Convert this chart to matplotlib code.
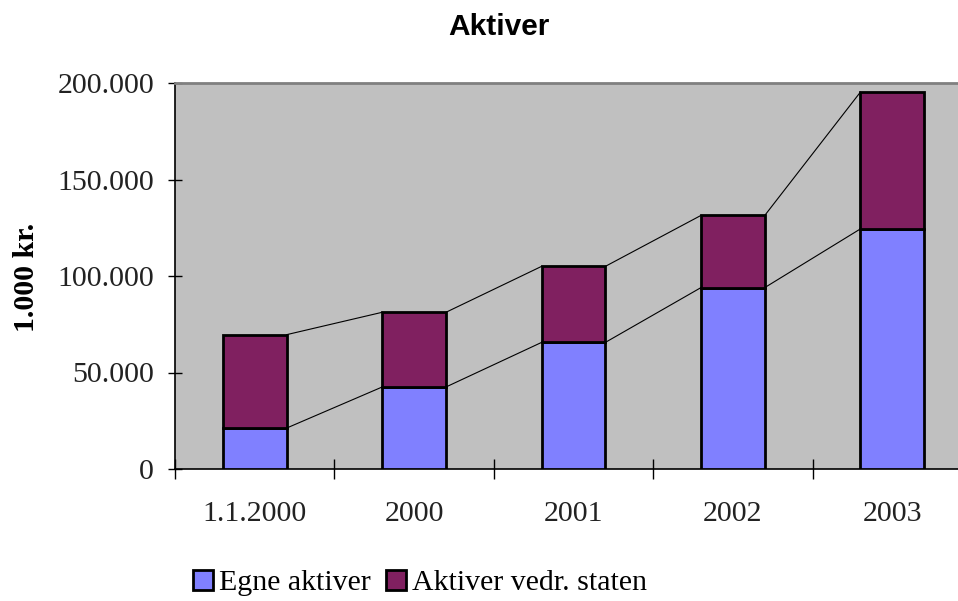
import numpy as np
import matplotlib.pyplot as plt

# data (1.000 kr.)
categories = ['1.1.2000', '2000', '2001', '2002', '2003']
egne_aktiver = [21200, 42500, 65600, 94000, 124400]
aktiver_staten = [48400, 38700, 39400, 37400, 70900]
y_ticks = [0, 50000, 100000, 150000, 200000]
y_tick_labels = ['0', '50.000', '100.000', '150.000', '200.000']

blue = '#8080FF'
maroon = '#802060'
serif = ['Liberation Serif', 'DejaVu Serif']
fs = 21.5

fig = plt.figure(figsize=(9.58, 6.01), dpi=100)
ax = fig.add_axes([175 / 958, 132 / 601, 797 / 958, 386 / 601])
ax.set_facecolor('#C0C0C0')

x = np.arange(len(categories))
w = 0.4
egne = np.array(egne_aktiver)
total = egne + np.array(aktiver_staten)

ax.bar(x, egne, w, color=blue, edgecolor='black', linewidth=2, label='Egne aktiver', zorder=3)
ax.bar(x, aktiver_staten, w, bottom=egne, color=maroon, edgecolor='black', linewidth=2,
       label='Aktiver vedr. staten', zorder=3)

# series lines between bar tops
for tops in (egne, total):
    for i in range(len(x) - 1):
        ax.plot([x[i] + w / 2, x[i + 1] - w / 2], [tops[i], tops[i + 1]],
                color='black', linewidth=0.8, zorder=2)

ax.set_xlim(-0.5, len(x) - 0.5)
ax.set_ylim(0, 200000)
ax.set_yticks(y_ticks)
ax.set_yticklabels(y_tick_labels, fontfamily=serif, fontsize=fs, color='#222222')
ax.set_xticks(np.arange(len(x) + 1) - 0.5)
ax.set_xticklabels([])
ax.set_xticks(x, minor=True)
ax.set_xticklabels(categories, minor=True, fontfamily=serif, fontsize=fs, color='#222222')
ax.tick_params(axis='x', which='major', direction='inout', length=14, width=1)
ax.tick_params(axis='x', which='minor', length=0, pad=23)
ax.tick_params(axis='y', direction='inout', length=10, width=1, pad=10)

for s in ('left', 'bottom'):
    ax.spines[s].set_color('black')
    ax.spines[s].set_linewidth(1.2)
ax.spines['top'].set_color('#808080')
ax.spines['top'].set_linewidth(2)
ax.spines['right'].set_visible(False)

fig.text(499 / 958, 1 - 27 / 601, 'Aktiver', fontfamily='Liberation Sans', fontweight='bold',
         fontsize=21.5, ha='center', va='center')
fig.text(26 / 958, 1 - 277 / 601, '1.000 kr.', fontfamily=serif, fontweight='bold',
         fontsize=fs, rotation=90, ha='center', va='center')

fig.legend(loc='center left', bbox_to_anchor=(193 / 958, 1 - 583 / 601), ncol=2, frameon=False,
           prop={'family': 'Liberation Serif', 'size': fs}, handlelength=0.67, handleheight=0.67,
           handletextpad=0.2, columnspacing=0.5, borderaxespad=0, borderpad=0)

fig.savefig('out.png', dpi=100)
